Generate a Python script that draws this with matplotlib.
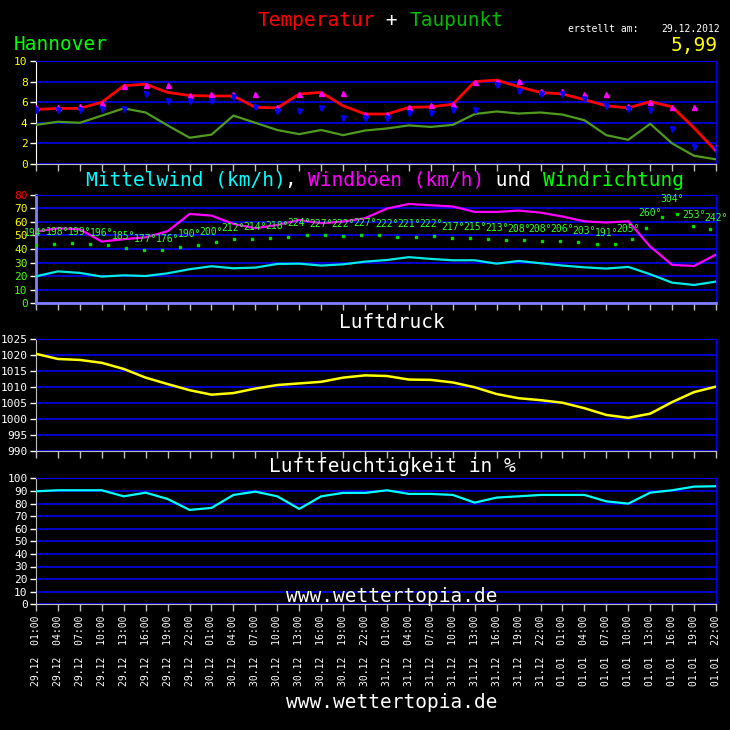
import matplotlib.pyplot as plt

# time axis: every 3 hours from 29.12 01:00 to 01.01 22:00
days = ['29.12', '30.12', '31.12', '01.01']
hours = ['01:00', '04:00', '07:00', '10:00', '13:00', '16:00', '19:00', '22:00']
x_labels = [d + '  ' + h for d in days for h in hours]
x = list(range(len(x_labels)))

# temperature / dew point
temp = [5.3, 5.4, 5.4, 6.0, 7.6, 7.75, 6.95, 6.65, 6.6, 6.6, 5.5, 5.45, 6.8, 6.95, 5.65, 4.85,
        4.85, 5.5, 5.55, 5.8, 8.0, 8.15, 7.5, 6.95, 6.8, 6.25, 5.65, 5.45, 6.05, 5.55, 3.5, 1.25]
dewpoint = [3.8, 4.1, 4.0, 4.7, 5.4, 5.0, 3.75, 2.55, 2.85, 4.7, 4.0, 3.3, 2.9, 3.3, 2.8, 3.25,
            3.45, 3.75, 3.6, 3.8, 4.85, 5.1, 4.9, 5.0, 4.8, 4.25, 2.8, 2.35, 3.9, 2.0, 0.8, 0.45]
temp_max = [5.5, 5.5, 5.6, 5.95, 7.6, 7.7, 7.7, 6.7, 6.8, 6.8, 6.8, 5.5, 6.8, 6.9, 6.9, 4.85,
            4.85, 5.5, 5.7, 5.8, 8.0, 8.1, 8.1, 7.05, 7.05, 6.8, 6.8, 5.6, 6.0, 5.5, 5.5, 1.65]
temp_min = [5.25, 5.2, 5.2, 5.35, 5.35, 6.8, 6.15, 6.15, 6.15, 6.5, 5.55, 5.1, 5.15, 5.45, 4.45, 4.45,
            4.45, 4.95, 4.95, 5.25, 5.25, 7.65, 7.05, 6.75, 6.75, 6.3, 5.65, 5.35, 5.25, 3.35, 1.65, 1.45]

# wind
wind_mean = [19.9, 23.5, 22.4, 19.7, 20.6, 20.1, 22.1, 25.1, 27.3, 25.8, 26.3, 29.0, 29.2, 27.8, 28.7, 30.7,
             31.9, 34.0, 32.7, 31.7, 31.7, 29.2, 31.2, 29.5, 27.8, 26.5, 25.6, 26.8, 21.4, 15.2, 13.5, 16.0]
wind_gust = [52.8, 55.3, 54.5, 45.5, 47.2, 48.6, 53.1, 65.8, 64.6, 58.5, 55.3, 57.7, 61.4, 59.0, 60.2, 62.7,
             69.8, 73.2, 72.2, 71.3, 67.3, 67.3, 68.3, 66.8, 63.9, 60.4, 59.5, 60.4, 41.8, 28.3, 27.5, 35.9]
wind_dir = [194, 198, 199, 196, 185, 177, 176, 190, 200, 212, 214, 218, 224, 227, 222, 227,
            222, 221, 222, 217, 215, 213, 208, 208, 206, 203, 191, 205, 260, 304, 253, 242]
wind_dir_label_y = [52.0, 52.8, 52.8, 52.0, 49.6, 47.4, 47.4, 51.1, 52.5, 55.5, 56.2, 57.0, 58.9, 58.4, 58.2, 58.9,
                    58.2, 58.2, 58.2, 56.5, 56.5, 55.7, 55.0, 55.0, 54.5, 53.5, 51.6, 54.5, 66.3, 76.6, 65.1, 62.6]
# direction dots (own time positions, in units of the 3 h steps)
dir_dot_x = [0, 0.82, 1.64, 2.46, 3.29, 4.12, 4.94, 5.76, 6.58, 7.40, 8.22, 9.04, 9.86, 10.68, 11.51,
             12.34, 13.16, 13.99, 14.81, 15.63, 16.47, 17.31, 18.13, 18.96, 19.78, 20.60, 21.43, 22.25,
             23.09, 23.91, 24.73, 25.57, 26.39, 27.15, 27.83, 28.52, 29.22, 29.93, 30.73]
dir_dot_y = [43.2, 43.9, 44.4, 43.9, 42.7, 40.9, 39.4, 39.4, 41.2, 43.2, 45.2, 47.4, 47.6, 48.3, 49.1,
             50.1, 50.3, 49.6, 50.3, 50.0, 49.1, 49.1, 49.4, 48.1, 47.9, 47.4, 46.6, 46.4, 46.1, 45.9,
             45.2, 43.7, 43.7, 47.6, 55.7, 63.4, 65.8, 57.2, 54.5]

# pressure
pressure = [1020.3, 1018.7, 1018.4, 1017.5, 1015.6, 1012.9, 1010.9, 1009.0, 1007.6, 1008.1, 1009.5, 1010.6,
            1011.1, 1011.6, 1012.9, 1013.6, 1013.4, 1012.3, 1012.2, 1011.4, 1009.9, 1007.8, 1006.5, 1005.9,
            1005.1, 1003.4, 1001.3, 1000.4, 1001.7, 1005.3, 1008.4, 1010.1]

# humidity
humidity = [89.7, 90.5, 90.5, 90.5, 85.7, 88.6, 83.6, 74.9, 76.5, 86.8, 89.4, 85.7, 75.7, 85.7, 88.4, 88.4,
            90.5, 87.6, 87.6, 86.8, 80.7, 84.7, 85.7, 86.8, 86.8, 86.8, 81.7, 79.9, 88.6, 90.5, 93.4, 93.7]

wind_tick_colors = ['#44ff00', '#44ff00', '#44ff00', '#88ff00', '#ccff00', '#ffff00', '#ffff00', '#ffff00', '#ff0000']

FONT = 'DejaVu Sans Mono'
W = 730.0
BLUE = '#0000ee'
GRAY = '#c0c0c0'

plt.rcParams['font.family'] = FONT

fig = plt.figure(figsize=(7.3, 7.3), dpi=100, facecolor='black')


def panel(top, bottom, ylim, yticks, left_color, tick_color):
    ax = fig.add_axes([36 / W, 1 - bottom / W, 680 / W, (bottom - top) / W])
    ax.set_facecolor('black')
    ax.set_xlim(0, 31)
    ax.set_ylim(*ylim)
    ax.set_yticks(yticks)
    ax.set_xticks(x)
    ax.set_xticklabels([])
    for v in yticks:
        ax.axhline(v, color=BLUE, lw=1.2, zorder=1)
    ax.spines['top'].set_color(BLUE)
    ax.spines['right'].set_color(BLUE)
    ax.spines['left'].set_color(left_color)
    ax.spines['bottom'].set_color(GRAY)
    ax.tick_params(axis='x', colors=GRAY, length=5, width=1)
    ax.tick_params(axis='y', colors='white', length=4, width=1, pad=2, labelsize=8)
    for lab in ax.get_yticklabels():
        lab.set_color(tick_color)
    return ax


def colored_text(segments, x0, y0, size):
    # monospace font: advance by number of characters
    cw = 0.602 * size * 100 / 72
    xp = x0
    for txt, col in segments:
        fig.text(xp / W, 1 - y0 / W, txt, color=col, fontsize=size, ha='left', va='center', family=FONT)
        xp += cw * len(txt)


# header
colored_text([('Temperatur', '#ff0000'), (' + ', 'white'), ('Taupunkt', '#00bb00')], 257, 20, 14)
fig.text(14 / W, 1 - 45 / W, 'Hannover', color='#00ff00', fontsize=14, va='center')
fig.text(568 / W, 1 - 29 / W, 'erstellt am:', color='white', fontsize=7, va='center')
fig.text(720 / W, 1 - 29 / W, '29.12.2012', color='white', fontsize=7, va='center', ha='right')
fig.text(718 / W, 1 - 45 / W, '5,99', color='#ffff00', fontsize=14, va='center', ha='right')

# temperature panel
ax1 = panel(61, 164, (0, 10), [0, 2, 4, 6, 8, 10], 'white', '#ffff00')
ax1.plot(x, dewpoint, color='#4f9a1f', lw=1.6, zorder=3)
ax1.plot(x, temp, color='#ff0000', lw=2, zorder=4)
ax1.plot(x, temp_max, ls='none', marker='^', color='#ff00ff', ms=3.6, zorder=5)
ax1.plot(x, temp_min, ls='none', marker='v', color='#0000ff', ms=3.6, zorder=5)

# wind panel
colored_text([('Mittelwind (km/h)', '#00ffff'), (', ', 'white'), ('Windböen (km/h)', '#ff00ff'),
              (' und ', 'white'), ('Windrichtung', '#00ff00')], 86, 180, 14)
ax2 = panel(194.7, 303.3, (0, 80), [0, 10, 20, 30, 40, 50, 60, 70, 80], '#8080ff', 'white')
ax2.spines['left'].set_linewidth(2)
ax2.spines['bottom'].set_color('#8080ff')
ax2.spines['bottom'].set_linewidth(2)
for lab, c in zip(ax2.get_yticklabels(), wind_tick_colors):
    lab.set_color(c)
ax2.plot(x, wind_mean, color='#00e8e8', lw=1.6, zorder=3)
ax2.plot(x, wind_gust, color='#ff00ff', lw=1.6, zorder=3)
ax2.plot(dir_dot_x, dir_dot_y, ls='none', marker='s', color='#00dd00', ms=1.8, zorder=4)
for xi, d, yl in zip(x, wind_dir, wind_dir_label_y):
    ax2.text(xi, yl, '%d°' % d, color='#33ff33', fontsize=7, ha='center', va='center', zorder=5)

# pressure panel
fig.text(392 / W, 1 - 323 / W, 'Luftdruck', color='white', fontsize=14, ha='center', va='center')
ax3 = panel(338.7, 451.3, (990, 1025), [990, 995, 1000, 1005, 1010, 1015, 1020, 1025], GRAY, 'white')
ax3.plot(x, pressure, color='#ffff00', lw=1.8, zorder=3)

# humidity panel
fig.text(392 / W, 1 - 467 / W, 'Luftfeuchtigkeit in %', color='white', fontsize=14, ha='center', va='center')
ax4 = panel(478.3, 604.3, (0, 100), list(range(0, 101, 10)), GRAY, 'white')
ax4.plot(x, humidity, color='#00ffff', lw=1.6, zorder=3)
ax4.set_xticklabels(x_labels, rotation=90, fontsize=7, color='white', va='top', ha='center')
ax4.tick_params(axis='x', labelcolor='white', pad=3)

fig.text(392 / W, 1 - 596 / W, 'www.wettertopia.de', color='white', fontsize=14, ha='center', va='center', zorder=10)
fig.text(392 / W, 1 - 703 / W, 'www.wettertopia.de', color='white', fontsize=14, ha='center', va='center')

fig.savefig('out.png', dpi=100, facecolor='black')
